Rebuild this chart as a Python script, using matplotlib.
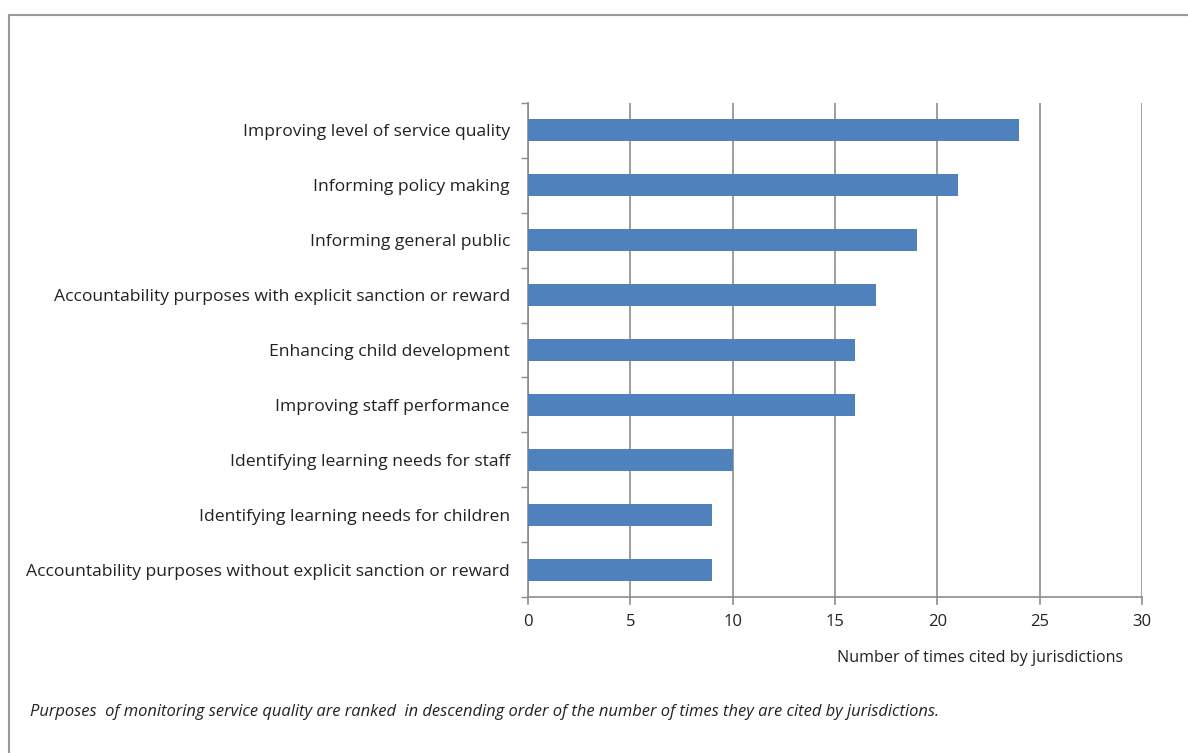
import numpy as np
import matplotlib
matplotlib.use('Agg')
import matplotlib.pyplot as plt
from matplotlib.patches import Rectangle

# ── Data ──────────────────────────────────────────────────────────────────────
purposes = [
    'Improving level of service quality',
    'Informing policy making',
    'Informing general public',
    'Accountability purposes with explicit sanction or reward',
    'Enhancing child development',
    'Improving staff performance',
    'Identifying learning needs for staff',
    'Identifying learning needs for children',
    'Accountability purposes without explicit sanction or reward',
]
times_cited = [24, 21, 19, 17, 16, 16, 10, 9, 9]
x_ticks = [0, 5, 10, 15, 20, 25, 30]

BAR_COLOR = '#4F81BD'
GRID_COLOR = '#8C8C8C'
TEXT_COLOR = '#222222'

plt.rcParams['font.family'] = ['Open Sans', 'DejaVu Sans']

fig = plt.figure(figsize=(11.88, 7.53), dpi=100)
ax = fig.add_axes([528 / 1188, 1 - 597 / 753, 614 / 1188, 494 / 753])

# outer chart border (cut off at right and bottom like the reference)
fig.patches.append(Rectangle((9 / 1188, -0.1), 1.2, 1 - 15 / 753 + 0.1,
                             transform=fig.transFigure, fill=False,
                             edgecolor='#9A9A9A', linewidth=1.5))

n = len(purposes)
y = np.arange(n)[::-1]
ax.barh(y, times_cited, height=0.4, color=BAR_COLOR, zorder=3)

ax.set_xlim(0, 30)
ax.set_ylim(-0.5, n - 0.5)
ax.set_xticks(x_ticks)
ax.set_xticklabels([str(t) for t in x_ticks], fontsize=12, color=TEXT_COLOR)
ax.set_yticks(y)
ax.set_yticklabels(purposes, fontsize=12.6, color=TEXT_COLOR)
ax.tick_params(axis='y', length=0, pad=13)
ax.tick_params(axis='x', length=0, pad=12)

# category boundary ticks on the y axis
ax.set_yticks(np.arange(-0.5, n, 1.0), minor=True)
ax.tick_params(axis='y', which='minor', length=5, width=1, color=GRID_COLOR, direction='out')

ax.grid(axis='x', color=GRID_COLOR, linewidth=1.2, zorder=0)
for s in ['top', 'right']:
    ax.spines[s].set_visible(False)
ax.spines['left'].set_color(GRID_COLOR)
ax.spines['bottom'].set_color(GRID_COLOR)
ax.spines['left'].set_linewidth(1.2)
ax.spines['bottom'].set_linewidth(1.2)

# short tick marks through the bottom axis
for t in x_ticks:
    ax.plot([t, t], [-0.5, -0.62], color=GRID_COLOR, linewidth=1.2, clip_on=False)

fig.text(980 / 1188, 1 - 658 / 753, 'Number of times cited by jurisdictions',
         ha='center', va='center', fontsize=11.6, color=TEXT_COLOR)
fig.text(30 / 1188, 1 - 712 / 753,
         'Purposes  of monitoring service quality are ranked  in descending order of the number of times they are cited by jurisdictions.',
         ha='left', va='center', fontsize=11.9, style='italic', color=TEXT_COLOR)

fig.savefig('out.png', dpi=100)
